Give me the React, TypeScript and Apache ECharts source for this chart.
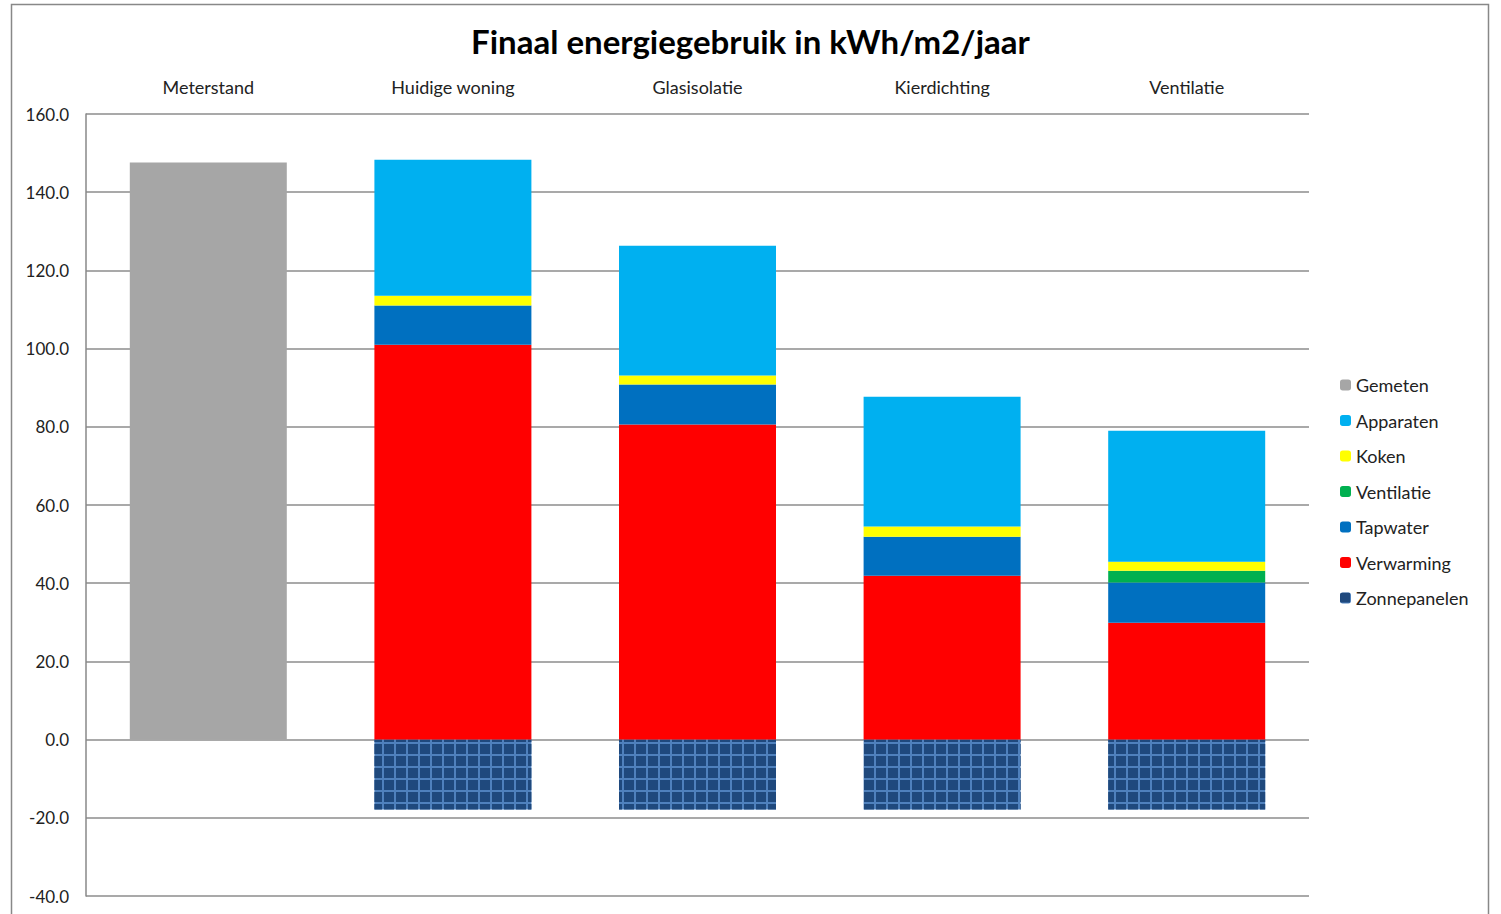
import React, { useEffect, useRef } from "react";
import * as echarts from "echarts";

const categories = ["Meterstand", "Huidige woning", "Glasisolatie", "Kierdichting", "Ventilatie"];
const gemeten = [147.6, null, null, null, null];
const zonnepanelen = [null, -17.9, -17.9, -17.9, -17.9];
const verwarming = [null, 101.0, 80.6, 41.9, 29.9];
const tapwater = [null, 10.0, 10.2, 10.0, 10.3];
const ventilatie = [null, null, null, null, 3.0];
const koken = [null, 2.5, 2.3, 2.6, 2.3];
const apparaten = [null, 34.8, 33.2, 33.2, 33.5];
const legendOrder = ["Gemeten", "Apparaten", "Koken", "Ventilatie", "Tapwater", "Verwarming", "Zonnepanelen"];
const yTicks = { min: -40, max: 160, interval: 20 };

const FONT = "Lato, 'Open Sans', sans-serif";

export default function App() {
  const ref = useRef<HTMLDivElement>(null);
  useEffect(() => {
    const chart = echarts.init(ref.current!, null, { renderer: "svg" });
    const mk = (name: string, data: any[], color: string, extra: any = {}) => ({
      name,
      type: "bar",
      stack: "total",
      data,
      barWidth: 157,
      itemStyle: { color, ...extra },
      emphasis: { disabled: true },
    });
    chart.setOption({
      animation: false,
      backgroundColor: "#ffffff",
      textStyle: { fontFamily: FONT },
      title: {
        text: "Finaal energiegebruik in kWh/m2/jaar",
        left: "center",
        top: 19,
        textStyle: { fontFamily: FONT, fontSize: 33, fontWeight: "bold", color: "#000" },
      },
      graphic: [
        {
          type: "rect",
          shape: { x: 11.5, y: 4.5, width: 1477, height: 930 },
          style: { fill: "none", stroke: "#888", lineWidth: 1.5 },
          silent: true,
        },
      ],
      legend: {
        orient: "vertical",
        left: 1340,
        top: 375,
        padding: 0,
        itemWidth: 11,
        itemHeight: 11,
        itemGap: 15.5,
        data: legendOrder,
        textStyle: { fontFamily: FONT, fontSize: 18, color: "#222", lineHeight: 20 },
        selectedMode: false,
      },
      grid: { left: 86, right: 192, top: 114, bottom: 18 },
      xAxis: {
        type: "category",
        position: "top",
        data: categories,
        axisLine: { show: false },
        axisTick: { show: false },
        axisLabel: { fontFamily: FONT, fontSize: 18, color: "#222", margin: 18 },
      },
      yAxis: {
        type: "value",
        min: yTicks.min,
        max: yTicks.max,
        interval: yTicks.interval,
        axisLine: { show: true, lineStyle: { color: "#888", width: 1.5 } },
        axisTick: { show: false },
        splitLine: { lineStyle: { color: "#8c8c8c", width: 1.5 } },
        axisLabel: {
          fontFamily: FONT,
          fontSize: 17,
          color: "#222",
          margin: 17,
          formatter: (v: number) => v.toFixed(1),
        },
      },
      series: [
        mk("Gemeten", gemeten, "#A6A6A6"),
        mk("Zonnepanelen", zonnepanelen, "#4F81BD", {
          decal: {
            symbol: "rect",
            symbolSize: 1,
            color: "#1F497D",
            dashArrayX: [10, 2],
            dashArrayY: [10, 2],
            rotation: 0,
          },
        }),
        mk("Verwarming", verwarming, "#FF0000"),
        mk("Tapwater", tapwater, "#0070C0"),
        mk("Ventilatie", ventilatie, "#00B050"),
        mk("Koken", koken, "#FFFF00"),
        mk("Apparaten", apparaten, "#00B0F0"),
      ],
    });
    return () => chart.dispose();
  }, []);
  return (
    <div
      ref={ref}
      style={{ position: "fixed", left: 0, top: 0, width: 1501, height: 914 }}
    />
  );
}
